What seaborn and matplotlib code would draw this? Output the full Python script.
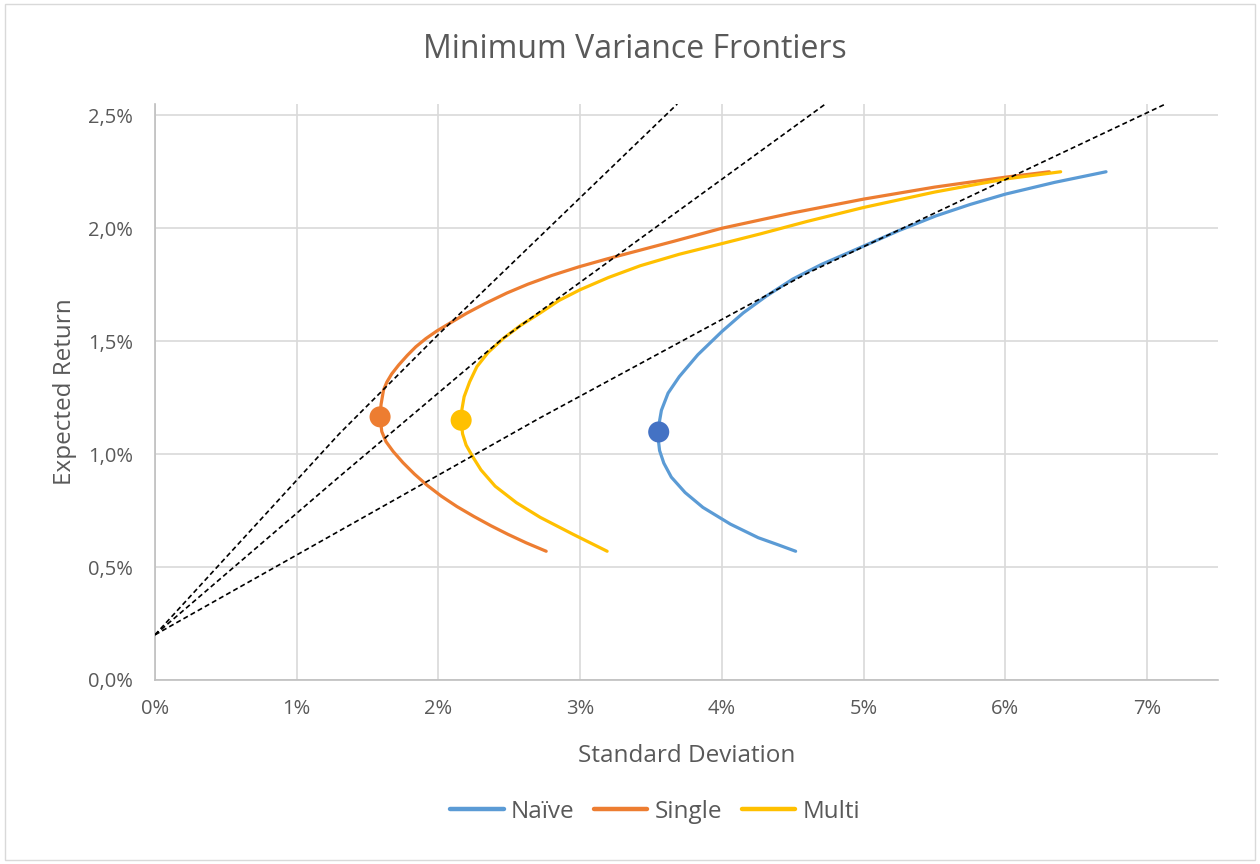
import matplotlib
matplotlib.use("Agg")
import matplotlib.pyplot as plt
import seaborn as sns
import pandas as pd
from matplotlib.ticker import FuncFormatter, MultipleLocator
from matplotlib.patches import Rectangle

# ---- data (standard deviation %, expected return %) ----
series_names = ["Naïve", "Single", "Multi"]

naive_sd = [4.52, 4.39, 4.256, 4.06, 3.866, 3.74, 3.643, 3.59, 3.560, 3.552, 3.554, 3.558,
            3.573, 3.62, 3.699, 3.83, 4.0, 4.15, 4.312, 4.5, 4.703, 5.0, 5.25, 5.511, 5.75,
            6.0, 6.347, 6.71]
naive_ret = [0.57, 0.60, 0.630, 0.69, 0.764, 0.83, 0.898, 0.96, 1.016, 1.06, 1.098, 1.14,
             1.194, 1.27, 1.343, 1.44, 1.543, 1.625, 1.699, 1.775, 1.840, 1.921, 1.99, 2.055,
             2.105, 2.151, 2.203, 2.25]

single_sd = [2.76, 2.62, 2.49, 2.37, 2.25, 2.13, 2.02, 1.92, 1.83, 1.75, 1.68, 1.63, 1.60,
             1.588, 1.595, 1.612, 1.635, 1.67, 1.72, 1.78, 1.84, 1.91, 1.988, 2.10, 2.20,
             2.33, 2.482, 2.63, 2.80, 2.99, 3.188, 3.659, 4.0, 4.5, 5.0, 5.5, 6.0, 6.31]
single_ret = [0.57, 0.607, 0.645, 0.683, 0.724, 0.768, 0.814, 0.862, 0.912, 0.962, 1.012,
              1.055, 1.10, 1.165, 1.22, 1.283, 1.318, 1.355, 1.395, 1.437, 1.475, 1.511,
              1.545, 1.587, 1.624, 1.667, 1.713, 1.752, 1.791, 1.829, 1.864, 1.942, 2.0,
              2.068, 2.129, 2.182, 2.226, 2.25]

multi_sd = [3.19, 2.95, 2.718, 2.55, 2.40, 2.30, 2.24, 2.195, 2.17, 2.160, 2.166, 2.181,
            2.22, 2.271, 2.35, 2.459, 2.58, 2.718, 2.85, 3.0, 3.2, 3.424, 3.7, 4.0, 4.271,
            4.6, 5.0, 5.5, 6.0, 6.39]
multi_ret = [0.57, 0.645, 0.720, 0.785, 0.858, 0.93, 0.99, 1.04, 1.09, 1.150, 1.20, 1.254,
             1.32, 1.387, 1.45, 1.513, 1.57, 1.625, 1.68, 1.728, 1.782, 1.834, 1.885, 1.932,
             1.975, 2.03, 2.092, 2.16, 2.218, 2.25]

# minimum variance portfolios
mvp_sd = [3.554, 1.588, 2.160]
mvp_ret = [1.098, 1.165, 1.150]

# capital allocation lines from the risk-free rate
cal_1_sd = [0.0, 1.30, 2.00, 3.685]
cal_1_ret = [0.20, 1.09, 1.53, 2.55]
cal_2_sd = [0.0, 1.30, 2.45, 4.73]
cal_2_ret = [0.20, 0.90, 1.51, 2.55]
cal_3_sd = [0.0, 2.715, 4.60, 7.13]
cal_3_ret = [0.20, 1.16, 1.80, 2.55]

line_colors = {"Naïve": "#5B9BD5", "Single": "#ED7D31", "Multi": "#FFC000"}
marker_colors = {"Naïve": "#4472C4", "Single": "#ED7D31", "Multi": "#FFC000"}

# ---- tidy frames ----
frames = []
for name, sd, ret in zip(series_names, [naive_sd, single_sd, multi_sd],
                         [naive_ret, single_ret, multi_ret]):
    frames.append(pd.DataFrame({"series": name, "sd": sd, "ret": ret,
                                "step": range(len(sd))}))
frontiers = pd.concat(frames, ignore_index=True)
mvp = pd.DataFrame({"series": series_names, "sd": mvp_sd, "ret": mvp_ret})

cal_frames = []
for i, (sd, ret) in enumerate([(cal_1_sd, cal_1_ret), (cal_2_sd, cal_2_ret),
                               (cal_3_sd, cal_3_ret)]):
    cal_frames.append(pd.DataFrame({"line": f"cal{i}", "sd": sd, "ret": ret}))
cals = pd.concat(cal_frames, ignore_index=True)

# ---- style ----
sns.set_theme(style="white")
plt.rcParams["font.family"] = ["Open Sans", "DejaVu Sans"]
text_color = "#595959"
grid_color = "#D9D9D9"

fig = plt.figure(figsize=(12.6, 8.64), dpi=100)
ax = fig.add_axes([155 / 1260, 1 - 680 / 864, (1218 - 155) / 1260, (680 - 104) / 864])

sns.lineplot(data=frontiers, x="sd", y="ret", hue="series", hue_order=series_names,
             palette=line_colors, sort=False, estimator=None, linewidth=2.3,
             ax=ax, zorder=3)
for ln in ax.lines:
    ln.set_solid_joinstyle("round")
    ln.set_solid_capstyle("round")
handles, labels = ax.get_legend_handles_labels()
ax.get_legend().remove()

for name, grp in cals.groupby("line"):
    sns.lineplot(data=grp, x="sd", y="ret", sort=False, estimator=None, color="black",
                 linewidth=1.2, ax=ax, zorder=4, legend=False)
for ln in ax.lines[-3:]:
    ln.set_dashes((3.0, 1.9))

sns.scatterplot(data=mvp, x="sd", y="ret", hue="series", hue_order=series_names,
                palette=marker_colors, s=230, linewidth=0, legend=False, ax=ax, zorder=5)

ax.set_xlim(0, 7.5)
ax.set_ylim(0, 2.55)
ax.xaxis.set_major_locator(MultipleLocator(1))
ax.yaxis.set_major_locator(MultipleLocator(0.5))
ax.xaxis.set_major_formatter(FuncFormatter(lambda v, p: f"{v:.0f}%"))
ax.yaxis.set_major_formatter(FuncFormatter(lambda v, p: f"{v:.1f}%".replace(".", ",")))
ax.grid(True, color=grid_color, linewidth=1.2)
ax.set_axisbelow(True)
for side in ["top", "right"]:
    ax.spines[side].set_visible(False)
for side in ["left", "bottom"]:
    ax.spines[side].set_color("#BFBFBF")
    ax.spines[side].set_linewidth(1.2)
ax.tick_params(axis="both", length=0, labelsize=14.5, labelcolor=text_color)
ax.tick_params(axis="x", pad=14)
ax.tick_params(axis="y", pad=16)

ax.set_xlabel("Standard Deviation", fontsize=17.5, color=text_color, labelpad=18)
ax.set_ylabel("Expected Return", fontsize=17.5, color=text_color, labelpad=8)

fig.text(635 / 1260, 1 - 50 / 864, "Minimum Variance Frontiers", ha="center",
         va="center", fontsize=23, color=text_color)

for h in handles:
    h.set_linewidth(3.2)
fig.legend(handles, labels, loc="center", bbox_to_anchor=(655 / 1260, 1 - 812 / 864),
           bbox_transform=fig.transFigure, ncol=3, frameon=False, fontsize=17.5,
           handlelength=2.2, handletextpad=0.3, columnspacing=0.8, labelcolor=text_color)

fig.patches.append(Rectangle((0.004, 0.005), 0.992, 0.99, transform=fig.transFigure,
                             fill=False, edgecolor="#D9D9D9", linewidth=1.0))

fig.savefig("out.png", dpi=100)
